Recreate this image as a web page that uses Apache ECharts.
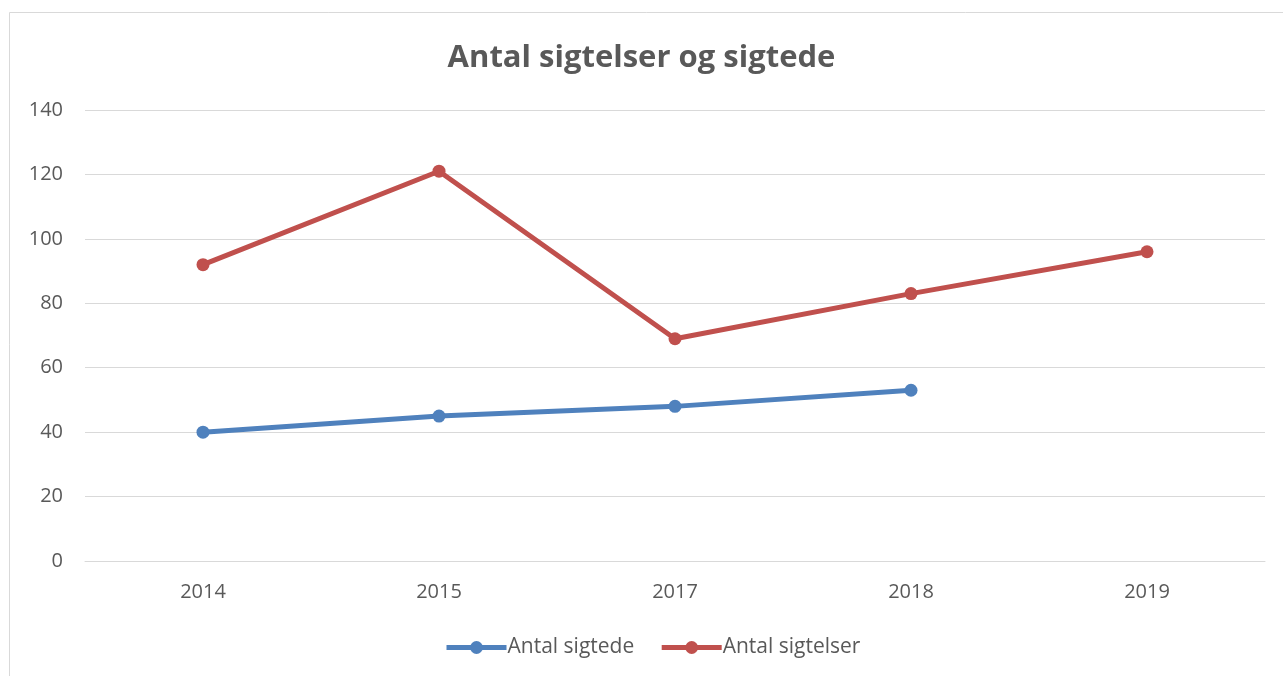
<!DOCTYPE html>
<html><head><meta charset="utf-8">
<script src="https://cdn.jsdelivr.net/npm/echarts@6/dist/echarts.min.js"></script>
<style>html,body{margin:0;padding:0;background:#fff}#c{width:1283px;height:676px}</style>
</head><body><div id="c"></div>
<script>
const categories = ['2014','2015','2017','2018','2019'];
const sigtede = [40, 45, 48, 53, null];
const sigtelser = [92, 121, 69, 83, 96];
const yTicks = [0, 20, 40, 60, 80, 100, 120, 140];

const font = 'Open Sans, Liberation Sans, sans-serif';
const chart = echarts.init(document.getElementById('c'));
chart.setOption({
  animation: false,
  backgroundColor: '#fff',
  graphic: [{type:'rect', shape:{x:9.5,y:12.5,width:1290,height:700}, style:{fill:'none', stroke:'#d9d9d9', lineWidth:1}, z:-1}],
  title: {text:'Antal sigtelser og sigtede', left:'center', top:38,
    textStyle:{fontFamily:font, fontSize:31, fontWeight:'bold', color:'#595959'}},
  grid: {left:85, right:18, top:110, bottom:115},
  legend: {bottom:13, left:439, itemWidth:60, itemHeight:16, itemGap:25,
    lineStyle:{width:5},
    textStyle:{fontFamily:font, fontSize:21, color:'#595959', padding:[0,0,0,-4]},
    data:['Antal sigtede','Antal sigtelser']},
  xAxis: {type:'category', data:categories, boundaryGap:true,
    axisLine:{lineStyle:{color:'#d9d9d9', width:1}}, axisTick:{show:false},
    axisLabel:{fontFamily:font, fontSize:20, color:'#595959', margin:21}},
  yAxis: {type:'value', min:yTicks[0], max:yTicks[yTicks.length-1], interval:20,
    axisLine:{show:false}, axisTick:{show:false},
    splitLine:{lineStyle:{color:'#d9d9d9', width:1}},
    axisLabel:{fontFamily:font, fontSize:20, color:'#595959', margin:22}},
  series: [
    {name:'Antal sigtede', type:'line', data:sigtede, symbol:'circle', symbolSize:13,
      lineStyle:{width:5, color:'#4f81bd'}, itemStyle:{color:'#4f81bd'}},
    {name:'Antal sigtelser', type:'line', data:sigtelser, symbol:'circle', symbolSize:13,
      lineStyle:{width:5, color:'#c0504d'}, itemStyle:{color:'#c0504d'}}
  ]
});
</script></body></html>
